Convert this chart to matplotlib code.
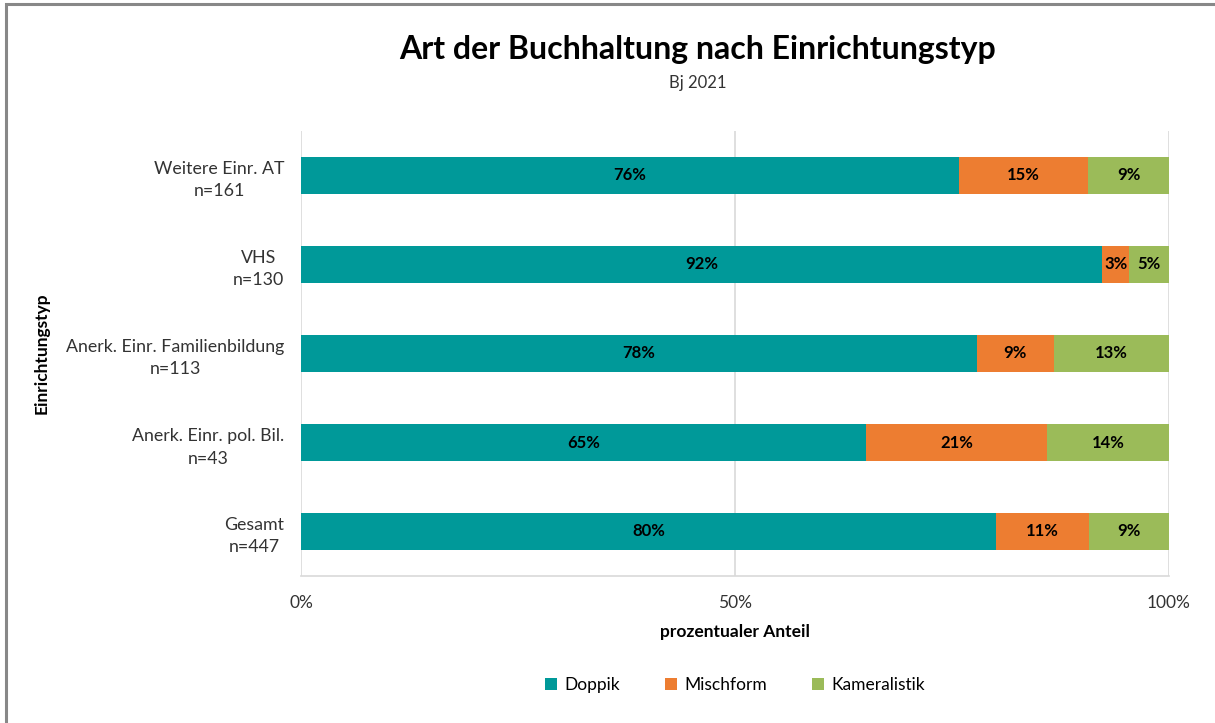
import numpy as np
import matplotlib.pyplot as plt
from matplotlib.patches import Rectangle

plt.rcParams['font.family'] = ['Lato', 'DejaVu Sans']

kategorien = ['Weitere Einr. AT\nn=161', 'VHS\nn=130',
              'Anerk. Einr. Familienbildung\nn=113',
              'Anerk. Einr. pol. Bil.\nn=43', 'Gesamt\nn=447']
doppik = [75.8, 92.3, 77.9, 65.1, 80.1]
mischform = [14.9, 3.1, 8.8, 20.9, 10.7]
kameralistik = [9.3, 4.6, 13.3, 14.0, 9.2]
serien = ['Doppik', 'Mischform', 'Kameralistik']
farben = ['#009999', '#ED7D31', '#9BBB59']

fig = plt.figure(figsize=(12.15, 7.23), dpi=100)
ax = fig.add_axes([301/1215, 1 - 576/723, 868/1215, 445/723])

# Rahmen (nur oben und links sichtbar)
fig.patches.append(Rectangle((6/1215, -0.1), 1.2, 0.1 + 1 - 4/723,
                             transform=fig.transFigure, fill=False,
                             edgecolor='#888888', linewidth=2.2))

y = np.arange(len(kategorien))
links = np.zeros(len(kategorien))
for name, werte, farbe in zip(serien, [doppik, mischform, kameralistik], farben):
    werte = np.array(werte)
    ax.barh(y, werte, left=links, height=0.405, color=farbe, label=name, zorder=3)
    for yi, l, w in zip(y, links, werte):
        ax.text(l + w / 2, yi, '%d%%' % round(w), ha='center', va='center',
                fontsize=12, fontweight='bold', color='black', zorder=4)
    links = links + werte

ax.set_xlim(0, 100)
ax.set_ylim(4.5, -0.5)
ax.set_yticks(y)
ax.set_yticklabels(kategorien, fontsize=12.8, multialignment='center',
                   color='#333333', linespacing=1.5)
ax.set_xticks([0, 50, 100])
ax.set_xticklabels(['0%', '50%', '100%'], fontsize=12.5, color='#333333')
ax.tick_params(axis='y', length=0, pad=12)
ax.tick_params(axis='x', length=0, pad=14)
ax.grid(axis='x', color='#d9d9d9', linewidth=1.2, zorder=0)
for s in ['top', 'right', 'left']:
    ax.spines[s].set_visible(False)
ax.spines['bottom'].set_color('#d9d9d9')
ax.spines['bottom'].set_linewidth(1.2)

ax.set_xlabel('prozentualer Anteil', fontsize=12.5, fontweight='bold', labelpad=9)
fig.text(42/1215, 1 - 353/723, 'Einrichtungstyp', rotation=90, ha='center',
         va='center', fontsize=12.5, fontweight='bold')

fig.text(698/1215, 1 - 50/723, 'Art der Buchhaltung nach Einrichtungstyp',
         ha='center', va='center', fontsize=23, fontweight='bold')
fig.text(698/1215, 1 - 83/723, 'Bj 2021', ha='center', va='center',
         fontsize=12, color='#333333')

fig.legend(loc='center', bbox_to_anchor=(735/1215, 1 - 685/723), ncol=3,
           frameon=False, fontsize=12.5, handlelength=0.7, handleheight=0.7,
           columnspacing=2.6, handletextpad=0.4)

fig.savefig('out.png', dpi=100)
